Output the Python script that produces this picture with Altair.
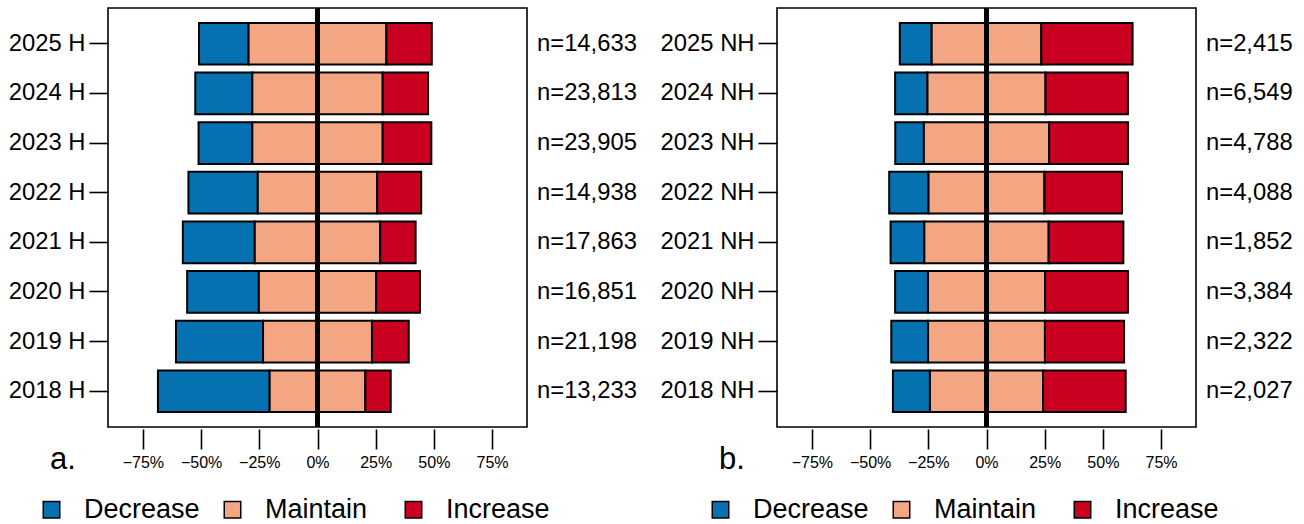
import altair as alt
import pandas as pd

# Survey responses by year: share (%) wanting to decrease / maintain / increase
years = ["2025", "2024", "2023", "2022", "2021", "2020", "2019", "2018"]
responses = ["Decrease", "Maintain", "Increase"]
palette = ["#0571b0", "#f4a582", "#ca0020"]
x_ticks = [-75, -50, -25, 0, 25, 50, 75]

h_decrease = [21.3, 24.5, 23.1, 29.8, 30.9, 30.8, 37.4, 48.0]
h_maintain = [59.2, 56.0, 56.0, 51.3, 53.9, 50.4, 46.8, 41.1]
h_increase = [19.5, 19.5, 20.9, 18.9, 15.2, 18.8, 15.8, 10.9]
h_n = ["14,633", "23,813", "23,905", "14,938", "17,863", "16,851", "21,198", "13,233"]

nh_decrease = [13.7, 13.9, 12.3, 16.9, 14.5, 14.1, 15.8, 15.9]
nh_maintain = [47.1, 50.7, 53.8, 49.8, 53.4, 50.3, 50.2, 48.6]
nh_increase = [39.2, 35.4, 33.9, 33.3, 32.1, 35.6, 34.0, 35.5]
nh_n = ["2,415", "6,549", "4,788", "4,088", "1,852", "3,384", "2,322", "2,027"]

W, H = 419, 419
FONT = "Liberation Sans"


def panel(suffix, dec, mai, inc, ns, tag):
    groups = [f"{y} {suffix}" for y in years]
    rows = []
    for g, d, m, i in zip(groups, dec, mai, inc):
        # "Maintain" is centred on zero; the other two extend outward from it
        rows.append({"group": g, "response": "Decrease", "start": -(m / 2 + d), "end": -m / 2})
        rows.append({"group": g, "response": "Maintain", "start": -m / 2, "end": m / 2})
        rows.append({"group": g, "response": "Increase", "start": m / 2, "end": m / 2 + i})
    seg = pd.DataFrame(rows)
    counts = pd.DataFrame({"group": groups, "label": ["n=" + n for n in ns]})

    xscale = alt.Scale(domain=[-90, 90], nice=False, zero=False)
    yscale = alt.Scale(domain=groups, paddingInner=0.16, paddingOuter=0.30)

    bars = alt.Chart(seg).mark_bar(stroke="black", strokeWidth=2).encode(
        x=alt.X(
            "start:Q",
            scale=xscale,
            axis=alt.Axis(
                values=x_ticks,
                labelExpr="(datum.value < 0 ? '\u2212' : '') + abs(datum.value) + '%'",
                title=None,
                domain=False,
                grid=False,
                offset=2,
                tickSize=20,
                tickWidth=1.6,
                tickColor="black",
                labelColor="black",
                labelFontSize=16,
                labelPadding=5,
                labelFlush=False,
                labelOverlap=False,
            ),
        ),
        x2="end:Q",
        y=alt.Y(
            "group:N",
            scale=yscale,
            axis=alt.Axis(
                title=None,
                domain=False,
                grid=False,
                tickSize=19,
                tickWidth=1.6,
                tickColor="black",
                labelColor="black",
                labelFontSize=23.8,
                labelPadding=4,
            ),
        ),
        color=alt.Color(
            "response:N",
            scale=alt.Scale(domain=responses, range=palette),
            legend=alt.Legend(
                orient="none",
                legendX=-70,
                legendY=488,
                direction="horizontal",
                title=None,
                symbolType="square",
                symbolSize=272,
                symbolStrokeColor="black",
                symbolStrokeWidth=1.5,
                symbolOpacity=1,
                labelFontSize=27,
                labelColor="black",
                labelOffset=19,
                columnPadding=19,
                gridAlign="all",
                padding=0,
            ),
        ),
    )

    zero = alt.Chart(seg).mark_rule(color="black", strokeWidth=3.5).encode(x=alt.datum(0))

    n_text = alt.Chart(counts).mark_text(
        align="left", baseline="middle", fontSize=23.8, color="black"
    ).encode(
        y=alt.Y("group:N", scale=yscale),
        x=alt.value(W + 10),
        text="label:N",
    )

    tag_text = alt.Chart(pd.DataFrame({"t": [tag]})).mark_text(
        align="left", baseline="alphabetic", fontSize=31, color="black"
    ).encode(x=alt.value(-58), y=alt.value(461), text="t:N")

    return alt.layer(bars, zero, n_text, tag_text).properties(width=W, height=H)


left = panel("H", h_decrease, h_maintain, h_increase, h_n, "a.")
right = panel("NH", nh_decrease, nh_maintain, nh_increase, nh_n, "b.")

chart = (
    alt.hconcat(left, right, spacing=250, bounds="flush")
    .resolve_scale(color="independent", x="independent", y="independent")
    .properties(padding={"left": 7, "top": 5, "right": 5, "bottom": 4}, background="white")
    .configure(font=FONT)
    .configure_view(stroke="black", strokeWidth=1.6)
)

chart.save("out.html", embed_options={"renderer": "svg", "actions": False})
